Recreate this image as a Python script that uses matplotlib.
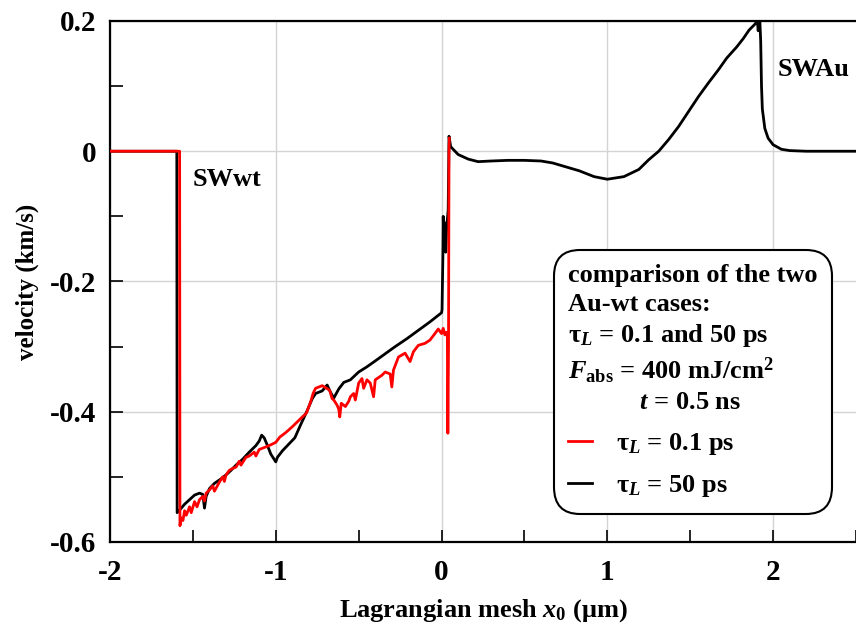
import matplotlib
matplotlib.use("Agg")
import matplotlib.pyplot as plt
from matplotlib.lines import Line2D
from matplotlib.ticker import MultipleLocator

# velocity profiles along the Lagrangian mesh
x_50ps = [-2.0, -1.597, -1.595, -1.57, -1.55, -1.52, -1.49, -1.46, -1.44, -1.43, -1.42,
          -1.40, -1.37, -1.33, -1.30, -1.27, -1.24, -1.20, -1.16, -1.12, -1.10, -1.085,
          -1.07, -1.05, -1.03, -1.01, -1.0, -0.99, -0.96, -0.93, -0.885, -0.85, -0.81,
          -0.78, -0.76, -0.72, -0.69, -0.67, -0.65, -0.62, -0.59, -0.55, -0.50, -0.45,
          -0.40, -0.34, -0.28, -0.21, -0.14, -0.07, 0.0, 0.003, 0.008, 0.01, 0.015,
          0.02, 0.025, 0.03, 0.04, 0.045, 0.055, 0.1, 0.16, 0.22, 0.3, 0.4, 0.5, 0.6,
          0.67, 0.75, 0.83, 0.92, 1.0, 1.1, 1.19, 1.25, 1.31, 1.37, 1.43, 1.49, 1.55,
          1.61, 1.67, 1.72, 1.78, 1.82, 1.855, 1.89, 1.905, 1.91, 1.915, 1.92, 1.925,
          1.93, 1.935, 1.95, 1.97, 2.0, 2.05, 2.1, 2.2, 2.5]
v_50ps = [0.0, 0.0, -0.555, -0.548, -0.542, -0.535, -0.528, -0.525, -0.527, -0.548, -0.53,
          -0.518, -0.51, -0.503, -0.497, -0.49, -0.482, -0.473, -0.462, -0.452, -0.445, -0.436,
          -0.44, -0.452, -0.465, -0.473, -0.477, -0.47, -0.46, -0.452, -0.44, -0.42, -0.398,
          -0.38, -0.372, -0.368, -0.359, -0.37, -0.379, -0.365, -0.355, -0.351, -0.339, -0.331,
          -0.322, -0.311, -0.30, -0.288, -0.275, -0.262, -0.248, -0.243, -0.16, -0.10, -0.15,
          -0.11, -0.155, -0.12, -0.09, 0.023, 0.007, -0.005, -0.012, -0.016, -0.015, -0.014, -0.014, -0.015,
          -0.018, -0.024, -0.03, -0.039, -0.043, -0.039, -0.028, -0.013, 0.0, 0.018, 0.038, 0.061, 0.084,
          0.105, 0.125, 0.143, 0.16, 0.173, 0.186, 0.195, 0.2, 0.185, 0.203, 0.2, 0.17,
          0.1, 0.065, 0.035, 0.02, 0.01, 0.003, 0.001, 0.0, 0.0]

x_01ps = [-2.0, -1.58, -1.578, -1.57, -1.56, -1.55, -1.54, -1.52, -1.51, -1.49, -1.475,
          -1.46, -1.44, -1.43, -1.42, -1.40, -1.38, -1.37, -1.34, -1.32, -1.31, -1.30, -1.28,
          -1.26, -1.24, -1.22, -1.21, -1.2, -1.18, -1.16, -1.13, -1.12, -1.1, -1.07, -1.04,
          -1.0, -0.976, -0.94, -0.90, -0.86, -0.815, -0.79, -0.775, -0.76, -0.74, -0.72,
          -0.70, -0.675, -0.66, -0.65, -0.63, -0.62, -0.614, -0.605, -0.58, -0.56, -0.55,
          -0.53, -0.52, -0.50, -0.48, -0.47, -0.45, -0.43, -0.41, -0.40, -0.36, -0.34,
          -0.31, -0.30, -0.29, -0.26, -0.22, -0.19, -0.17, -0.14, -0.10, -0.07, -0.04,
          -0.02, 0.0, 0.01, 0.02, 0.03, 0.035, 0.038, 0.042, 0.045, 0.047]
v_01ps = [0.0, 0.0, -0.575, -0.563, -0.567, -0.552, -0.559, -0.546, -0.555, -0.538, -0.546,
          -0.535, -0.53, -0.537, -0.525, -0.52, -0.514, -0.522, -0.508, -0.5, -0.507, -0.497, -0.49,
          -0.487, -0.485, -0.476, -0.482, -0.478, -0.47, -0.468, -0.462, -0.468, -0.458, -0.455, -0.452,
          -0.447, -0.439, -0.432, -0.423, -0.413, -0.402, -0.385, -0.372, -0.364, -0.362, -0.36,
          -0.363, -0.367, -0.38, -0.382, -0.39, -0.396, -0.408, -0.387, -0.392, -0.384, -0.377,
          -0.372, -0.382, -0.356, -0.349, -0.364, -0.351, -0.356, -0.377, -0.351, -0.344, -0.339,
          -0.342, -0.362, -0.336, -0.316, -0.31, -0.323, -0.308, -0.298, -0.295, -0.29, -0.28,
          -0.273, -0.28, -0.272, -0.282, -0.278, -0.285, -0.433, -0.3, 0.0, 0.02]

plt.rcParams['font.family'] = ['Liberation Serif', 'DejaVu Serif']
plt.rcParams['font.weight'] = 'bold'
plt.rcParams['axes.labelweight'] = 'bold'
plt.rcParams['axes.unicode_minus'] = False
plt.rcParams['mathtext.fontset'] = 'custom'
plt.rcParams['mathtext.rm'] = 'Liberation Serif:bold'
plt.rcParams['mathtext.it'] = 'Liberation Serif:italic:bold'
plt.rcParams['mathtext.bf'] = 'Liberation Serif:bold'

fig = plt.figure(figsize=(8.56, 6.3), dpi=100)
ax = fig.add_axes([0.1285, 0.1397, 0.8715, 0.827])

ax.plot(x_50ps, v_50ps, color='black', lw=2.0, zorder=3)
ax.plot(x_01ps, v_01ps, color='red', lw=2.0, zorder=4)

ax.set_xlim(-2, 2.5)
ax.set_ylim(-0.6, 0.2)
ax.xaxis.set_major_locator(MultipleLocator(1))
ax.xaxis.set_minor_locator(MultipleLocator(0.5))
ax.yaxis.set_major_locator(MultipleLocator(0.2))
ax.yaxis.set_minor_locator(MultipleLocator(0.1))
ax.yaxis.set_major_formatter(matplotlib.ticker.FuncFormatter(lambda v, p: '0' if abs(v) < 1e-9 else '%g' % v))
ax.tick_params(which='both', direction='in', length=9, width=1.2, labelsize=21)
ax.tick_params(axis='y', pad=10)
ax.tick_params(axis='x', pad=12)
ax.grid(True, which='major', color='#d4d4d4', lw=1.0, zorder=0)
for side in ['left', 'top', 'bottom']:
    ax.spines[side].set_linewidth(1.6)
ax.spines['right'].set_visible(False)

ax.set_xlabel(r'Lagrangian mesh $x_0$ ($\mathrm{\mu}$m)', fontsize=19, labelpad=8)
ax.set_ylabel('velocity (km/s)', fontsize=18, labelpad=8)

ax.text(-1.50, -0.044, 'SWwt', fontsize=19, fontweight='bold', va='center')
ax.text(2.03, 0.125, 'SWAu', fontsize=19, fontweight='bold', va='center')

title = ('comparison of the two\nAu-wt cases:\n'
         'τ$_{L}$ = 0.1 and 50 ps\n'
         '$F_{\\mathrm{abs}}$ = 400 mJ/cm$^{2}$\n'
         '$\\hspace{3.5}t$ = 0.5 ns')
handles = [Line2D([], [], color='red', lw=2.0), Line2D([], [], color='black', lw=2.0)]
labels = ['τ$_{L}$ = 0.1 ps', 'τ$_{L}$ = 50 ps']
leg = ax.legend(handles, labels, loc='upper right', bbox_to_anchor=(0.968, 0.5605),
                borderaxespad=0, title=title, alignment='left', fontsize=19,
                title_fontproperties={'size': 19, 'weight': 'bold'},
                frameon=True, fancybox=True, framealpha=1, edgecolor='black',
                handlelength=0.9, handletextpad=0.9, labelspacing=0.62, borderpad=0.55)
leg.get_frame().set_boxstyle('round,pad=0.0,rounding_size=1.0')
leg.get_frame().set_linewidth(1.5)
leg.get_title().set_linespacing(1.3)
leg.set_zorder(5)

fig.savefig('out.png', dpi=100)
